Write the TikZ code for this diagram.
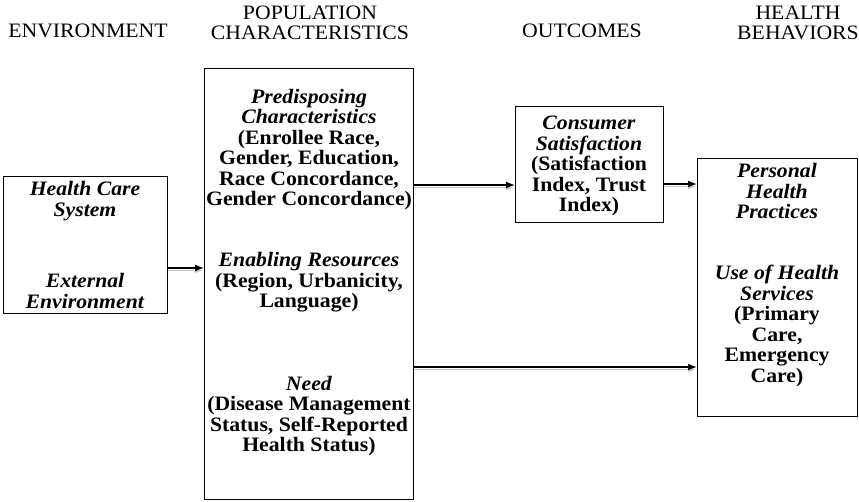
\documentclass[tikz,border=0pt]{standalone}
\usepackage{fontspec}
\setmainfont[FakeStretch=1.06]{Liberation Serif}
\usetikzlibrary{arrows.meta, positioning}

\tikzset{
  every node/.style={font=\fontsize{20.5}{20.5}\selectfont},
  framebox/.style={draw, line width=1.1pt, inner sep=0pt, anchor=north west},
  boxtext/.style={align=center, inner sep=0pt},
  header/.style={align=center, inner sep=0pt},
  flow/.style={line width=1.3pt, -{Latex[length=9pt,width=7pt]},
    preaction={draw=black!22, transform canvas={yshift=-2.5pt}}}
}
\newcommand{\hd}[1]{\textbf{\textit{#1}}}

\begin{document}
\begin{tikzpicture}[x=1pt,y=-1pt]
  \useasboundingbox (0,0) rectangle (859,502);

  % column titles
  \node[header] (henv) at (88,31) {ENVIRONMENT};
  \node[header] (hpop) at (310,23) {POPULATION\\CHARACTERISTICS};
  \node[header] (hout) at (582,31) {OUTCOMES};
  \node[header] (hbeh) at (798,23) {HEALTH\\BEHAVIORS};

  % the four boxes
  \node[framebox, minimum width=164pt, minimum height=137pt] (env) at (3,176) {};
  \node[framebox, minimum width=209pt, minimum height=431pt] (pop) at (204,68) {};
  \node[framebox, minimum width=148pt, minimum height=116pt] (out) at (515,106) {};
  \node[framebox, minimum width=160pt, minimum height=258pt] (beh) at (697,158) {};

  % box contents
  \node[boxtext] (hcs) at (85,201) {\hd{Health Care}\\\hd{System}};
  \node[boxtext] (ext) at (85,291) {\hd{External}\\\hd{Environment}};

  \node[boxtext] (pred) at (309,149.5) {\hd{Predisposing}\\\hd{Characteristics}\\
    \textbf{(Enrollee Race,}\\\textbf{Gender, Education,}\\
    \textbf{Race Concordance,}\\\textbf{Gender Concordance)}};
  \node[boxtext] (enab) at (309,282.5) {\hd{Enabling Resources}\\
    \textbf{(Region, Urbanicity,}\\\textbf{Language)}};
  \node[boxtext] (need) at (309,416) {\hd{Need}\\
    \textbf{(Disease Management}\\\textbf{Status, Self-Reported}\\
    \textbf{Health Status)}};

  \node[boxtext] (sat) at (589,166) {\hd{Consumer}\\\hd{Satisfaction}\\
    \textbf{(Satisfaction}\\\textbf{Index, Trust}\\\textbf{Index)}};

  \node[boxtext] (pers) at (777,191) {\hd{Personal}\\\hd{Health}\\\hd{Practices}};
  \node[boxtext] (use) at (777,326) {\hd{Use of Health}\\\hd{Services}\\
    \textbf{(Primary}\\\textbf{Care,}\\\textbf{Emergency}\\\textbf{Care)}};

  % arrow heights
  \coordinate (r1) at (0,268);
  \coordinate (r2) at (0,185);
  \coordinate (r3) at (0,184);
  \coordinate (r4) at (0,367);

  \draw[flow] (env.east |- r1) -- (pop.west |- r1);
  \draw[flow] (pop.east |- r2) -- (out.west |- r2);
  \draw[flow] (out.east |- r3) -- (beh.west |- r3);
  \draw[flow] (pop.east |- r4) -- (beh.west |- r4);
\end{tikzpicture}
\end{document}
